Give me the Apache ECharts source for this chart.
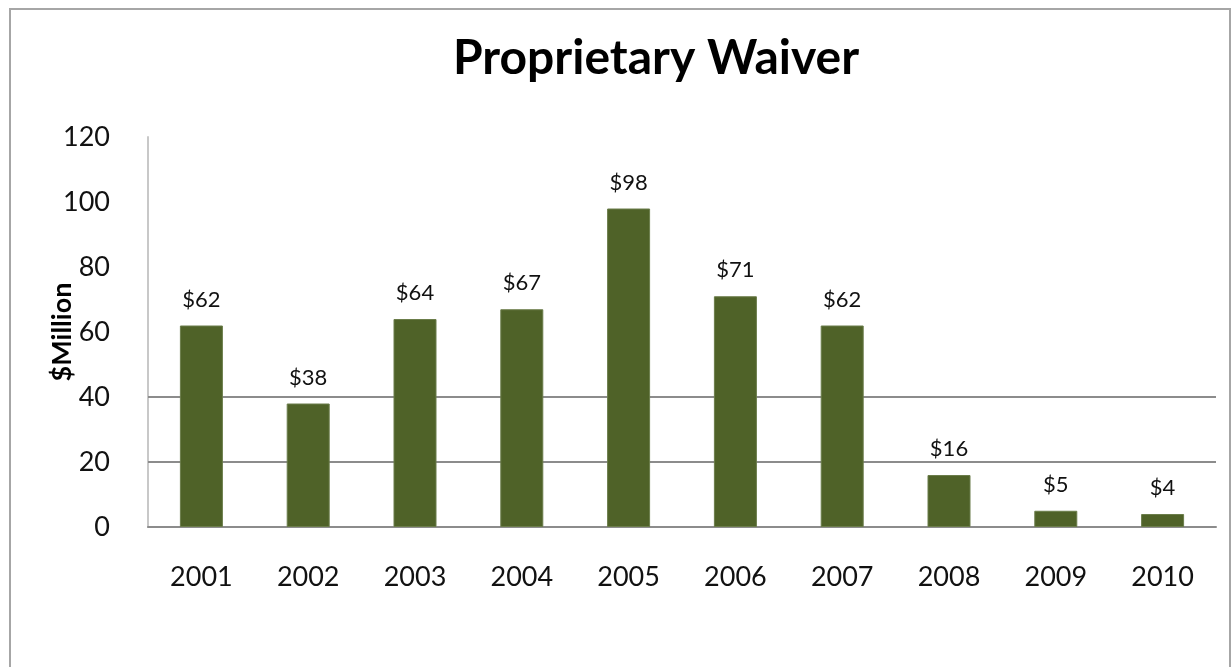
<!DOCTYPE html>
<html>
<head>
<meta charset="utf-8">
<script src="https://cdn.jsdelivr.net/npm/echarts@6/dist/echarts.min.js"></script>
<style>
    html, body { margin: 0; padding: 0; background: #fff; }
    #frame { position: absolute; left: 9px; top: 8px; width: 1222px; height: 665px; border: 2px solid #a6a6a6; box-sizing: border-box; }
    #main { position: absolute; left: 0; top: 0; width: 1232px; height: 667px; }
</style>
</head>
<body>
<div id="frame"></div>
<div id="main"></div>
<script>
// data
var years = ['2001', '2002', '2003', '2004', '2005', '2006', '2007', '2008', '2009', '2010'];
var waiver = [62, 38, 64, 67, 98, 71, 62, 16, 5, 4];
var gridLines = [20, 40];

var chart = echarts.init(document.getElementById('main'));

var option = {
    animation: false,
    title: {
        text: 'Proprietary Waiver',
        left: 651,
        top: 30,
        textAlign: 'center',
        textStyle: {
            fontFamily: 'Lato',
            fontWeight: 'bold',
            fontSize: 48,
            color: '#000'
        }
    },
    grid: {
        left: 148,
        right: 16,
        top: 137,
        bottom: 140
    },
    xAxis: {
        type: 'category',
        data: years,
        axisLine: { lineStyle: { color: '#8c8c8c', width: 2 } },
        axisTick: { inside: true, length: 6, lineStyle: { color: '#bfbfbf' } },
        axisLabel: {
            margin: 37,
            fontFamily: 'Lato',
            fontSize: 27,
            color: '#111'
        }
    },
    yAxis: {
        type: 'value',
        min: 0,
        max: 120,
        interval: 20,
        name: '$Million',
        nameLocation: 'middle',
        nameGap: 72,
        nameRotate: 90,
        nameMoveOverlap: false,
        nameTextStyle: {
            fontFamily: 'Lato',
            fontWeight: 'bold',
            fontSize: 27,
            color: '#000'
        },
        axisLine: { show: true, lineStyle: { color: '#c8c8c8', width: 2 } },
        axisTick: { show: false },
        splitLine: { show: false },
        axisLabel: {
            margin: 38,
            fontFamily: 'Lato',
            fontSize: 27,
            color: '#111'
        }
    },
    series: [{
        type: 'bar',
        data: waiver,
        barWidth: 43,
        itemStyle: { color: '#4f6228', borderColor: '#6b7d4a', borderWidth: 1 },
        label: {
            show: true,
            position: 'top',
            distance: 15,
            formatter: '${c}',
            fontFamily: 'Lato',
            fontSize: 22,
            color: '#111'
        },
        markLine: {
            silent: true,
            symbol: 'none',
            label: { show: false },
            lineStyle: { color: '#8c8c8c', width: 2, type: 'solid' },
            z: 1,
            data: gridLines.map(function (v) { return { yAxis: v }; })
        }
    }]
};

chart.setOption(option);
</script>
</body>
</html>
